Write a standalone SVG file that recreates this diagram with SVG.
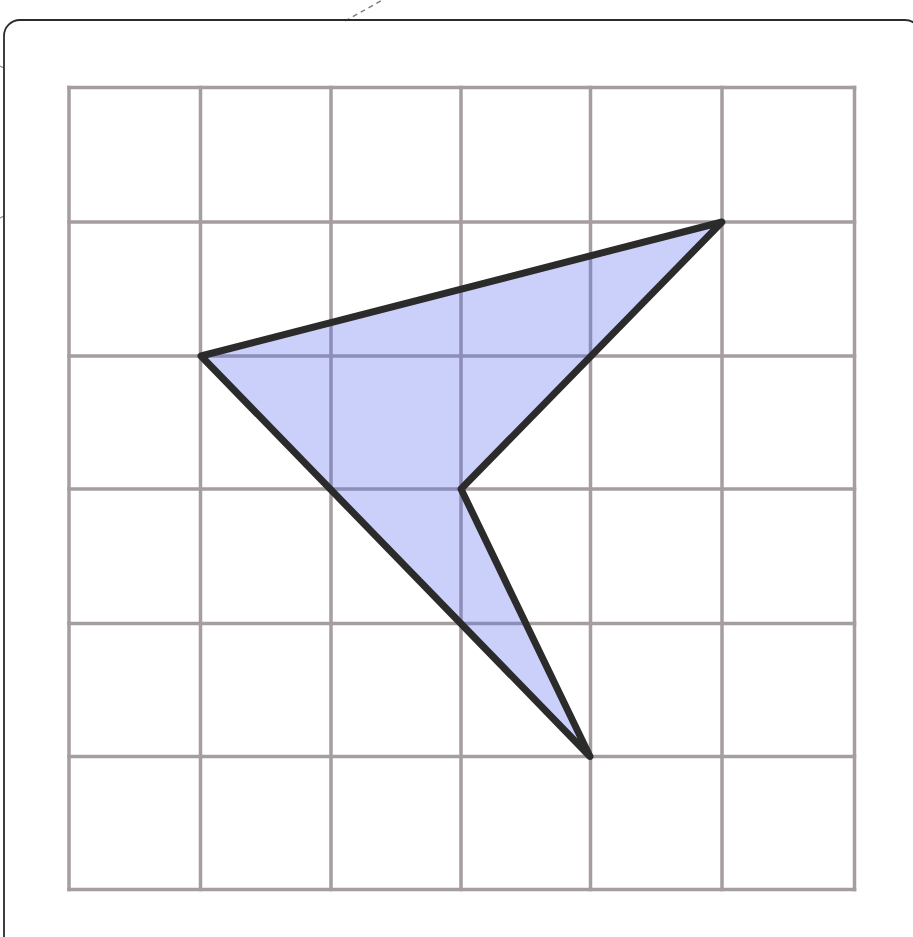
<svg xmlns="http://www.w3.org/2000/svg" width="913" height="937" viewBox="0 0 913 937">
<style>
.frame{fill:none;stroke:#2b2b2b;stroke-width:1.8}
.dash{fill:none;stroke:#7a7a7a;stroke-width:1.4;stroke-dasharray:5 4}
.grid{fill:none;stroke:#a59d9f;stroke-width:3.5;stroke-linecap:square}
.shape{fill:#5a6ef0;fill-opacity:0.32;stroke:#2b2b2b;stroke-width:7;stroke-linejoin:round}
</style>
<rect width="913" height="937" fill="#ffffff"/>
<g id="decor">
<path class="dash" d="M345 21 L386 -2"/>
<path d="M0 66 L4 68" stroke="#8a8a8a" stroke-width="1.2"/>
<path d="M0 218 L4 216" stroke="#8a8a8a" stroke-width="1.2"/>
<rect class="frame" x="4" y="20" width="917" height="940" rx="16" ry="16"/>
</g>
<g id="grid">
<path class="grid" d="M69 87.5 V889.5 M200.5 87.5 V889.5 M331 87.5 V889.5 M461 87.5 V889.5 M590.5 87.5 V889.5 M722 87.5 V889.5 M854.5 87.5 V889.5"/>
<path class="grid" d="M69 87.5 H854.5 M69 222 H854.5 M69 356 H854.5 M69 489 H854.5 M69 623.5 H854.5 M69 756.5 H854.5 M69 889.5 H854.5"/>
</g>
<g id="polygon">
<polygon class="shape" points="201,356 722,222 461,489 590,756.5"/>
</g>
</svg>
